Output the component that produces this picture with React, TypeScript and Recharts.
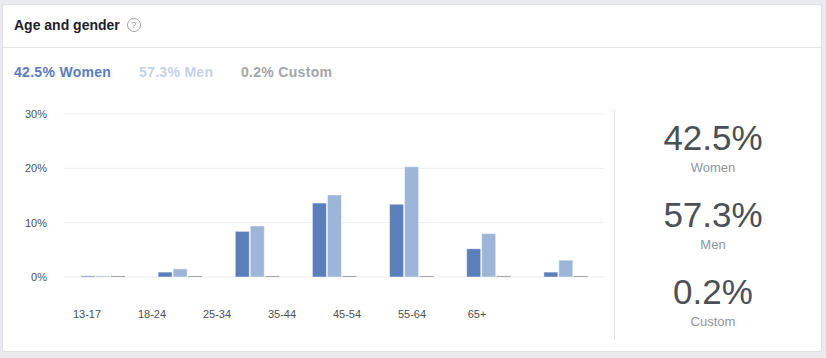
import { BarChart, Bar, XAxis, YAxis, CartesianGrid } from 'recharts'

const ageGroups = ['13-17', '18-24', '25-34', '35-44', '45-54', '55-64', '65+']
const women = [0.2, 0.9, 8.4, 13.6, 13.4, 5.2, 0.9]
const men = [0.2, 1.5, 9.4, 15.1, 20.3, 8.0, 3.1]
const custom = [0.2, 0.2, 0.2, 0.2, 0.2, 0.2, 0.2]
const yTicks = [0, 10, 20, 30]

const totals = [
  { label: 'Women', value: '42.5%', legendColor: '#5b7cb9', legendLeft: 14 },
  { label: 'Men', value: '57.3%', legendColor: '#c4d2e9', legendLeft: 139 },
  { label: 'Custom', value: '0.2%', legendColor: '#a3a6ab', legendLeft: 241 },
]

const font = 'Helvetica, Arial, sans-serif'

export default function App() {
  const chartData = ageGroups.map((age, i) => ({
    age,
    Women: women[i],
    Men: men[i],
    Custom: custom[i],
  }))

  return (
    <div style={{ position: 'absolute', left: 0, top: 0, width: 826, height: 358, background: '#e9ebee', fontFamily: font }}>
      <div style={{ position: 'absolute', left: 2, top: 4, width: 818, height: 346, background: '#fff', border: '1px solid #dddfe2', borderRadius: 3 }} />

      {/* header */}
      <div style={{ position: 'absolute', left: 14, top: 17, fontSize: 14, fontWeight: 600, color: '#1d2129', display: 'flex', alignItems: 'center' }}>
        Age and gender
        <span style={{ marginLeft: 7, width: 12, height: 12, borderRadius: '50%', border: '1px solid #a0a3a8', color: '#90949c', fontSize: 9, lineHeight: '12px', textAlign: 'center', fontWeight: 400 }}>?</span>
      </div>
      <div style={{ position: 'absolute', left: 3, top: 47, width: 818, height: 1, background: '#e5e6e9' }} />

      {/* legend row */}
      {totals.map(t => (
        <span key={t.label} style={{ position: 'absolute', left: t.legendLeft, top: 64, fontSize: 14, fontWeight: 600, letterSpacing: 0.3, color: t.legendColor, whiteSpace: 'nowrap' }}>
          {t.value} {t.label}
        </span>
      ))}

      <div style={{ position: 'absolute', left: 0, top: 0 }}>
        <BarChart
          width={620}
          height={340}
          data={chartData}
          margin={{ top: 114, right: 16, bottom: 23, left: 14 }}
          barSize={14}
          barGap={1}
        >
          <CartesianGrid vertical={false} stroke="#ebedf0" />
          <XAxis dataKey="age" hide height={0} />
          <XAxis
            xAxisId="labels"
            dataKey="age"
            height={40}
            axisLine={false}
            tickLine={false}
            tickSize={0}
            tickMargin={33}
            padding={{ left: -9.5, right: 94.5 }}
            interval={0}
            tick={{ fontSize: 11, fill: '#4b4f56', fontFamily: font }}
          />
          <YAxis
            width={50}
            domain={[0, 30]}
            ticks={yTicks}
            tickFormatter={(v: number) => `${v}%`}
            axisLine={false}
            tickLine={false}
            tickSize={0}
            tickMargin={17}
            tick={{ fontSize: 11, fill: '#4b4f56', fontFamily: font }}
          />
          <Bar dataKey="Women" fill="#5a7fbb" stroke="#ffffff" strokeOpacity={0.45} isAnimationActive={false} />
          <Bar dataKey="Men" fill="#9db5d7" stroke="#ffffff" strokeOpacity={0.45} isAnimationActive={false} />
          <Bar dataKey="Custom" fill="#a8aaae" isAnimationActive={false} />
        </BarChart>
      </div>

      {/* right summary */}
      <div style={{ position: 'absolute', left: 614, top: 110, width: 1, height: 230, background: '#dddfe2' }} />
      {totals.map((t, i) => (
        <div key={t.label} style={{ position: 'absolute', left: 615, top: 118 + i * 77, width: 196, textAlign: 'center' }}>
          <div style={{ fontSize: 35, lineHeight: '40px', color: '#4b4f56' }}>{t.value}</div>
          <div style={{ fontSize: 13, lineHeight: '16px', color: '#90949c', marginTop: 2 }}>{t.label}</div>
        </div>
      ))}
    </div>
  )
}
